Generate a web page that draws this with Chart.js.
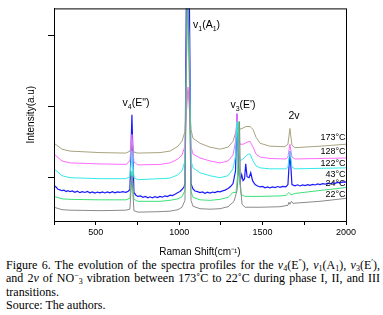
<!DOCTYPE html>
<html>
<head>
<meta charset="utf-8">
<script src="https://cdn.jsdelivr.net/npm/chart.js@4.4.1/dist/chart.umd.min.js"></script>
<style>
  body { margin: 0; background: #fff; }
  #wrap { position: absolute; left: 0; top: 0; width: 383px; height: 258px; }
  #cap { position: absolute; left: 6px; top: 259px; width: 374px;
         font-family: "Liberation Serif", "Times New Roman", serif; font-size: 12px; line-height: 13.3px; color: #000; }
  #cap .j { text-align: justify; text-align-last: justify; white-space: nowrap; }
  #cap sub, #cap sup { font-size: 8px; line-height: 0; position: relative; vertical-align: baseline; }
  #cap sub { top: 2px; }
  #cap sup { top: -4px; }
</style>
</head>
<body>
<div id="wrap"><canvas id="chart"></canvas></div>
<div id="cap">
  <div class="j">Figure 6. The evolution of the spectra profiles for the <i>v</i><sub>4</sub>(E<sup>″</sup>), <i>v</i><sub>1</sub>(A<sub>1</sub>), <i>v</i><sub>3</sub>(E<sup>′</sup>),</div>
  <div class="j">and 2<i>v</i> of NO<sup>−</sup><sub>3</sub> vibration between 173˚C to 22˚C during phase I, II, and III</div>
  <div>transitions.</div>
  <div>Source: The authors.</div>
</div>
<script>
// temperature labels, top to bottom
const temps = ["173°C", "128°C", "122°C", "43°C", "24°C", "22°C"];

// x tick labels shown on the Raman shift axis
const shiftTicks = [500, 1000, 1500, 2000];

// spectra: [Raman shift (cm-1), intensity (a.u.)]
const spec173 = [
  [250, 790], [298, 730], [346, 710], [526, 695], [681, 690], [705, 710], [717, 810], [729, 700],
  [753, 690], [885, 695], [945, 710], [993, 760], [1017, 810], [1035, 910], [1044, 1210], [1053, 1330],
  [1062, 1210], [1071, 930], [1083, 840], [1125, 790], [1185, 750], [1245, 730], [1293, 750], [1323, 810],
  [1341, 910], [1347, 990], [1359, 930], [1377, 940], [1401, 960], [1425, 960], [1443, 930], [1461, 850],
  [1485, 790], [1544, 760], [1634, 755], [1652, 780], [1664, 940], [1676, 770], [1694, 745], [1844, 760],
  [2000, 780]
];
const spec128 = [
  [250, 680], [298, 610], [346, 590], [526, 580], [681, 575], [705, 610], [717, 880], [729, 600],
  [753, 570], [885, 575], [945, 590], [993, 630], [1017, 670], [1035, 760], [1044, 1110], [1053, 1360],
  [1062, 1110], [1071, 760], [1083, 680], [1125, 640], [1185, 610], [1245, 590], [1293, 610], [1323, 670],
  [1338, 810], [1347, 1090], [1356, 860], [1365, 780], [1383, 780], [1407, 800], [1425, 810], [1443, 750],
  [1461, 680], [1485, 650], [1544, 635], [1640, 630], [1652, 650], [1664, 780], [1676, 650], [1694, 630],
  [2000, 640]
];
const spec122 = [
  [250, 530], [298, 460], [346, 440], [526, 430], [681, 430], [705, 450], [717, 710], [729, 440],
  [753, 420], [885, 430], [945, 435], [993, 470], [1017, 510], [1035, 610], [1044, 1610], [1052, 2400],
  [1062, 1610], [1071, 610], [1083, 540], [1125, 490], [1185, 460], [1245, 440], [1293, 460], [1323, 530],
  [1338, 660], [1347, 1010], [1356, 710], [1365, 610], [1389, 640], [1413, 680], [1425, 680], [1443, 610],
  [1461, 560], [1485, 540], [1544, 530], [1640, 530], [1652, 550], [1664, 710], [1676, 550], [1694, 530],
  [2000, 540]
];
const spec43 = [
  [250, 360], [262, 345], [274, 322], [286, 316], [298, 308], [310, 314], [322, 300], [334, 308],
  [346, 298], [360, 306], [375, 292], [390, 302], [405, 288], [420, 298], [435, 290], [450, 300],
  [465, 287], [480, 296], [495, 284], [510, 294], [526, 286], [540, 296], [555, 285], [570, 295],
  [585, 287], [600, 297], [615, 286], [630, 296], [645, 290], [660, 298], [681, 292], [695, 302],
  [705, 320], [717, 1080], [729, 290], [741, 262], [753, 250], [768, 256], [783, 240], [798, 250],
  [813, 236], [825, 246], [840, 235], [855, 248], [870, 238], [885, 250], [900, 242], [915, 256],
  [930, 248], [945, 262], [960, 258], [975, 272], [993, 290], [1005, 300], [1017, 320], [1029, 345],
  [1035, 380], [1044, 2500], [1052, 2900], [1060, 2500], [1071, 380], [1083, 325], [1095, 305], [1110, 298],
  [1125, 288], [1140, 296], [1155, 282], [1170, 292], [1185, 283], [1200, 294], [1215, 288], [1230, 300],
  [1245, 296], [1260, 306], [1275, 314], [1293, 330], [1308, 350], [1323, 380], [1338, 510], [1347, 1090],
  [1356, 560], [1365, 400], [1375, 470], [1383, 410], [1392, 430], [1399, 580], [1407, 450], [1419, 440],
  [1429, 490], [1440, 410], [1455, 370], [1470, 356], [1485, 346], [1500, 352], [1515, 338], [1530, 346],
  [1544, 336], [1560, 346], [1575, 340], [1590, 350], [1605, 342], [1620, 352], [1640, 348], [1652, 370],
  [1664, 710], [1676, 370], [1694, 358], [1710, 368], [1725, 356], [1740, 366], [1755, 360], [1770, 370],
  [1785, 362], [1800, 372], [1815, 366], [1830, 376], [1844, 370], [1860, 380], [1875, 374], [1890, 384],
  [1905, 378], [1920, 388], [1935, 382], [1950, 392], [1965, 388], [1980, 398], [2000, 395]
];
const spec24 = [
  [250, 250], [298, 225], [346, 220], [526, 215], [681, 215], [705, 230], [717, 510], [729, 220],
  [753, 200], [885, 200], [945, 210], [993, 225], [1017, 245], [1035, 310], [1044, 1610], [1051, 2410],
  [1060, 1610], [1071, 300], [1083, 240], [1125, 215], [1185, 210], [1245, 220], [1293, 240], [1323, 290],
  [1341, 290], [1350, 460], [1356, 1010], [1362, 410], [1371, 270], [1395, 250], [1485, 250], [1604, 255],
  [1640, 260], [1658, 290], [1670, 265], [1694, 280], [1844, 310], [2000, 340]
];
const spec22 = [
  [250, 140], [298, 115], [346, 110], [526, 105], [681, 110], [705, 120], [717, 460], [729, 105],
  [753, 90], [885, 95], [945, 100], [993, 115], [1017, 140], [1035, 210], [1043, 1610], [1050, 2510],
  [1060, 1610], [1071, 210], [1083, 150], [1125, 125], [1185, 120], [1245, 125], [1293, 145], [1329, 200],
  [1347, 310], [1356, 510], [1362, 1010], [1368, 360], [1377, 170], [1395, 140], [1485, 140], [1604, 145],
  [1652, 160], [1658, 190], [1664, 170], [1673, 200], [1682, 180], [1724, 185], [1844, 200], [2000, 230]
];

const yTicks = [440, 1160, 1880];

const line = (data, color, width) => ({
  data: data.map(([x, y]) => ({ x, y })),
  borderColor: color,
  borderWidth: width || 1,
  pointRadius: 0,
  tension: 0,
  fill: false
});

// text with subscripts: parts are [text, isSub]
function drawParts(ctx, parts, x, y, size, align) {
  const main = size + "px 'Liberation Sans', Arial, sans-serif";
  const small = Math.round(size * 0.7) + "px 'Liberation Sans', Arial, sans-serif";
  let total = 0;
  parts.forEach(([t, sub]) => { ctx.font = sub ? small : main; total += ctx.measureText(t).width; });
  let cx = align === "center" ? x - total / 2 : x;
  ctx.textAlign = "left";
  ctx.textBaseline = "alphabetic";
  parts.forEach(([t, sub]) => {
    ctx.font = sub ? small : main;
    ctx.fillText(t, cx, sub ? y + 2.5 : y);
    cx += ctx.measureText(t).width;
  });
}

const annotations = {
  id: "annotations",
  afterDatasetsDraw(chart) {
    const { ctx, chartArea: a } = chart;
    ctx.save();
    ctx.strokeStyle = "#000";
    ctx.lineWidth = 1;
    ctx.strokeRect(a.left + 0.5, a.top + 0.5, a.right - a.left, a.bottom - a.top);
    ctx.fillStyle = "#000";
    drawParts(ctx, [["v"], ["4", true], ["(E\")"]], 136, 106, 10.5, "center");
    drawParts(ctx, [["v"], ["1", true], ["(A"], ["1", true], [")"]], 193, 28, 10.5, "left");
    drawParts(ctx, [["v"], ["3", true], ["(E')"]], 243, 108, 10.5, "center");
    drawParts(ctx, [["2v"]], 294, 118.5, 10.5, "center");
    const ys = [138, 152, 163.5, 174.5, 184, 195];
    ctx.font = "9px 'Liberation Sans', Arial, sans-serif";
    ctx.textAlign = "right";
    ctx.textBaseline = "middle";
    temps.forEach((t, i) => ctx.fillText(t, 345.5, ys[i]));
    ctx.restore();
  }
};

new Chart(document.getElementById("chart"), {
  type: "line",
  data: {
    datasets: [
      line(spec22, "#8a8a8a"),
      line(spec24, "#3ee07a"),
      line(spec122, "#33e8ec"),
      line(spec128, "#ff6cff"),
      line(spec173, "#a8a37f"),
      line(spec43, "#1a1aff", 1.2)
    ]
  },
  options: {
    responsive: true,
    maintainAspectRatio: false,
    animation: false,
    events: [],
    layout: { padding: { left: 0, top: 5, right: 37, bottom: 0 } },
    plugins: { legend: { display: false }, tooltip: { enabled: false } },
    scales: {
      x: {
        type: "linear",
        min: 250,
        max: 2000,
        afterFit: (s) => { s.height = 37; },
        border: { display: true, color: "#000", width: 1 },
        grid: { drawOnChartArea: false, drawTicks: true, tickLength: 4, color: "#000" },
        ticks: {
          stepSize: 250,
          autoSkip: false,
          maxRotation: 0,
          padding: 2,
          color: "#000",
          font: { family: "'Liberation Sans', Arial, sans-serif", size: 9 },
          callback: (v) => (shiftTicks.includes(v) ? String(v) : "")
        },
        title: {
          display: true,
          text: "Raman Shift(cm⁻¹)",
          color: "#000",
          font: { family: "'Liberation Sans', Arial, sans-serif", size: 10 },
          padding: { top: 0, bottom: 0 }
        }
      },
      y: {
        min: 0,
        max: 2160,
        afterFit: (s) => { s.width = 54; },
        afterBuildTicks: (s) => { s.ticks = yTicks.map((v) => ({ value: v })); },
        border: { display: true, color: "#000", width: 1 },
        grid: { drawOnChartArea: false, drawTicks: true, tickLength: 6, color: "#000" },
        ticks: { callback: () => "", font: { size: 9 } },
        title: {
          display: true,
          text: "Intensity(a.u)",
          color: "#000",
          font: { family: "'Liberation Sans', Arial, sans-serif", size: 10 },
          padding: { top: 25, bottom: 0 }
        }
      }
    }
  },
  plugins: [annotations]
});
</script>
</body>
</html>
